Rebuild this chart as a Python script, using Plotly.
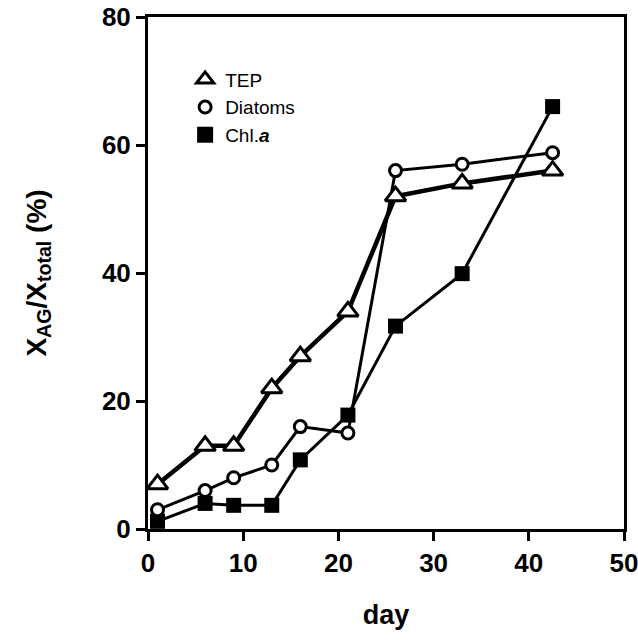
import plotly.graph_objects as go

day = [1, 6, 9, 13, 16, 21, 26, 33, 42.5]
tep = [7, 13, 13, 22, 27, 34, 52, 54, 56]
diatoms = [3, 6, 8, 10, 16, 15, 56, 57, 58.8]
chla = [1.2, 4, 3.7, 3.7, 10.8, 17.8, 31.7, 39.9, 66]

x_ticks = [0, 10, 20, 30, 40, 50]
y_ticks = [0, 20, 40, 60, 80]

FONT = "Liberation Sans, Arial, sans-serif"
fig = go.Figure()

fig.add_trace(go.Scatter(x=day, y=chla, mode="lines+markers", showlegend=False,
                         line=dict(color="black", width=3),
                         marker=dict(symbol="square", size=15, color="black")))
fig.add_trace(go.Scatter(x=day, y=diatoms, mode="lines+markers", showlegend=False,
                         line=dict(color="black", width=3),
                         marker=dict(symbol="circle", size=12, color="white",
                                     line=dict(color="black", width=3))))
fig.add_trace(go.Scatter(x=day, y=tep, mode="lines+markers", showlegend=False,
                         line=dict(color="black", width=4.5),
                         marker=dict(symbol="triangle-up", size=18, color="white",
                                     line=dict(color="black", width=3))))

# legend entries (markers only)
fig.add_trace(go.Scatter(x=[None], y=[None], mode="markers", name="TEP",
                         marker=dict(symbol="triangle-up", size=15, color="white",
                                     line=dict(color="black", width=3))))
fig.add_trace(go.Scatter(x=[None], y=[None], mode="markers", name="Diatoms",
                         marker=dict(symbol="circle", size=12, color="white",
                                     line=dict(color="black", width=3))))
fig.add_trace(go.Scatter(x=[None], y=[None], mode="markers", name="Chl.<b><i>a</i></b>",
                         marker=dict(symbol="square", size=16, color="black")))

axis_common = dict(showgrid=False, zeroline=False, showline=True, linecolor="black",
                   linewidth=3, mirror=True, ticks="outside", ticklen=9, tickwidth=3,
                   tickcolor="black", automargin=False, ticklabeloverflow="allow",
                   tickfont=dict(family=FONT, size=26, color="black", weight="bold"))

fig.update_xaxes(range=[0, 50], tickvals=x_ticks, **axis_common,
                 title=dict(text="<b>day</b>", font=dict(family=FONT, size=27, color="black"),
                            standoff=28))
fig.update_yaxes(range=[0, 80], tickvals=y_ticks, **axis_common,
                 title=dict(text="<b>X<sub>AG</sub>/X<sub>total</sub> (%)</b>",
                            font=dict(family=FONT, size=28, color="black"), standoff=48))

fig.update_layout(
    width=638, height=644,
    margin=dict(l=148, r=14, t=17, b=115),
    plot_bgcolor="white", paper_bgcolor="white",
    legend=dict(x=0.078, y=0.915, xanchor="left", yanchor="top",
                font=dict(family=FONT, size=19, color="black"),
                bgcolor="rgba(0,0,0,0)", itemwidth=30, tracegroupgap=0),
)

fig.write_html("out.html")
